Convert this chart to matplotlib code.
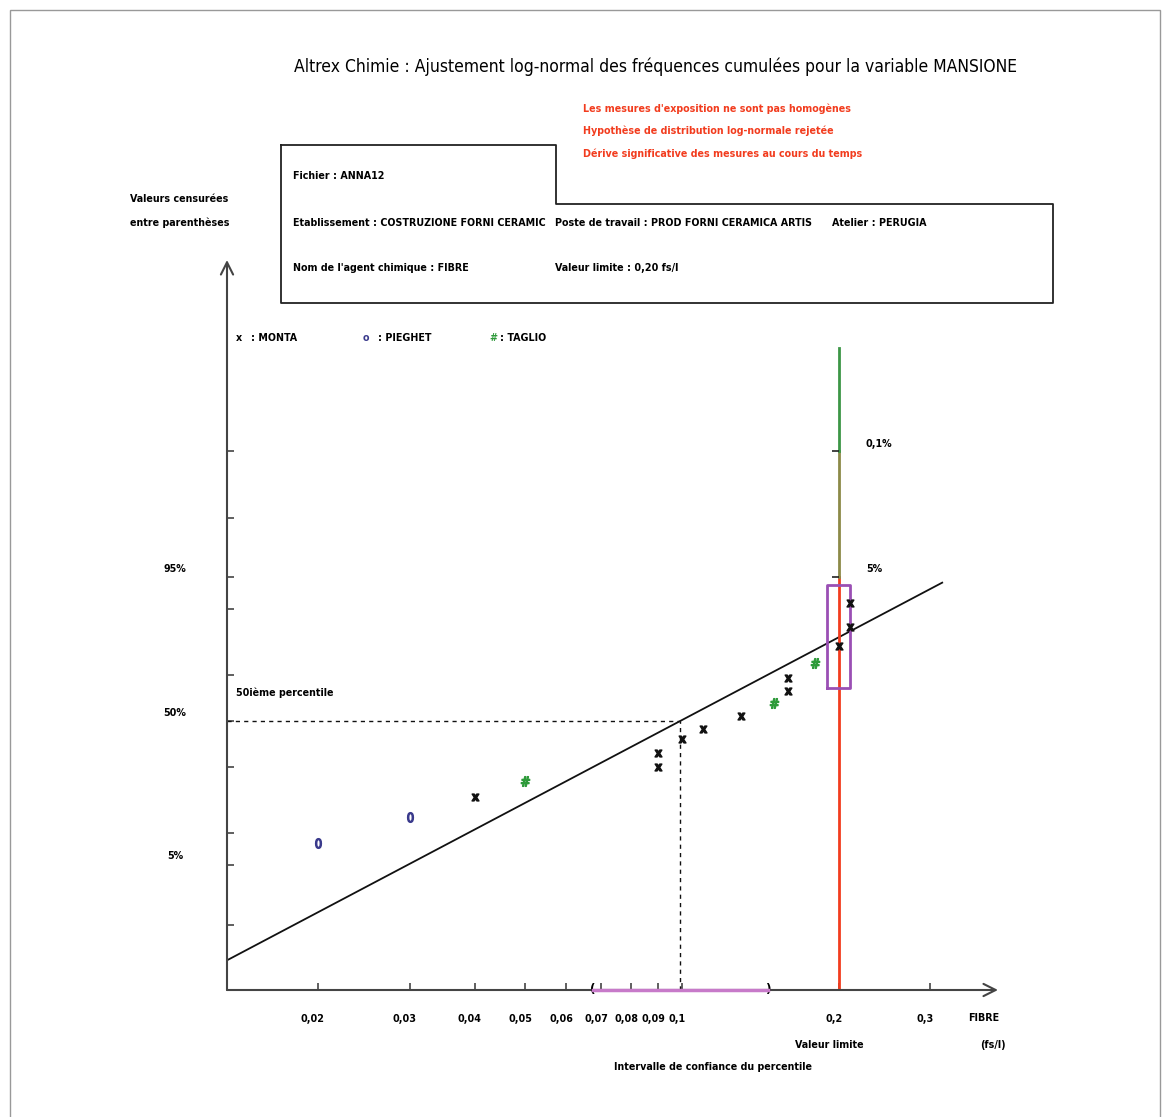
import matplotlib
matplotlib.use("Agg")
import matplotlib.pyplot as plt
from matplotlib import font_manager as fm
from matplotlib.lines import Line2D
from matplotlib.patches import Rectangle
from matplotlib.ticker import NullLocator
from matplotlib.transforms import ScaledTranslation
from statistics import NormalDist
import numpy as np

# police étroite si disponible (DejaVu Sans Condensed), sinon DejaVu Sans plus petite
plt.rcParams['font.family'] = ['DejaVu Sans']
cond_path = fm.findfont(fm.FontProperties(family='DejaVu Sans', stretch='condensed', weight='bold'))
if 'Condensed' in cond_path:
    plt.rcParams['font.stretch'] = 'condensed'
    k = 1.1
else:
    k = 1.0
FS = 7.0 * k        # textes courants
FS_TITLE = 11.4 * k

# --- données (concentrations en fs/l, fréquences cumulées en %) ---
monta_x = [0.04, 0.09, 0.09, 0.10, 0.11, 0.13, 0.16, 0.16, 0.20, 0.21, 0.21]
monta_p = [19.2, 29.8, 35.9, 41.7, 46.5, 52.3, 63.5, 68.7, 80.4, 85.9, 91.2]
pieghet_x = [0.02, 0.03]
pieghet_p = [8.2, 13.7]
taglio_x = [0.05, 0.15, 0.18]
taglio_p = [24.8, 58.0, 74.5]

fit_median = 0.0992
fit_gsd = 2.08
fit_range = [0.0134, 0.316]
ci_low, ci_high = 0.0675, 0.1464
valeur_limite = 0.2
box_x = [0.190, 0.2105]
box_p = [64.7, 94.0]
limit_p = [95, 99.9, 99.999]   # rouge / olive / vert

xticks = [0.02, 0.03, 0.04, 0.05, 0.06, 0.07, 0.08, 0.09, 0.1, 0.2, 0.3]
xlabels = ['0,02', '0,03', '0,04', '0,05', '0,06', '0,07', '0,08', '0,09', '0,1', '0,2', '0,3']
yticks_p = [1, 5, 10, 30, 50, 70, 90, 95, 99, 99.9]
ylab_p = [5, 50, 95]


def z(p):
    return np.array([NormalDist().inv_cdf(v / 100.0) for v in np.atleast_1d(p)])


W, H = 1168, 1117
fig = plt.figure(figsize=(W / 100, H / 100), dpi=100)


def put(px, py, s, **kw):
    kw.setdefault('fontsize', FS)
    kw.setdefault('fontweight', 'bold')
    kw.setdefault('va', 'center')
    fig.text(px / W, 1 - py / H, s, **kw)


# cadre extérieur
fig.add_artist(Rectangle((10 / W, -0.01), 1150 / W, 1 - 10 / H + 0.01, fill=False,
                         ec='#999999', lw=1, transform=fig.transFigure))

ax = fig.add_axes([227 / W, 1 - 990 / H, (998 - 227) / W, (990 - 260) / H])
ax.set_xscale('log')
ax.set_xlim(0.01339, 0.4044)
ax.set_ylim(-3.074, 5.27)
for s in ax.spines.values():
    s.set_visible(False)
ax.patch.set_alpha(0)

# axes avec flèches
arrow = dict(arrowstyle='->', color='#444444', lw=1.5, mutation_scale=22, shrinkA=0, shrinkB=0)
ax.annotate('', xy=(1, 0), xytext=(0, 0), xycoords='axes fraction', arrowprops=arrow)
ax.annotate('', xy=(0, 1), xytext=(0, 0), xycoords='axes fraction', arrowprops=arrow)

ax.set_xticks(xticks)
ax.set_xticklabels(xlabels)
ax.xaxis.set_minor_locator(NullLocator())
ax.set_yticks(z(yticks_p))
ax.set_yticklabels([])
ax.tick_params(direction='in', length=5, color='#444444', width=1.2)
ax.tick_params(axis='x', pad=17, labelsize=FS)
shift = ScaledTranslation(-5 / 100, 0, fig.dpi_scale_trans)
for t in ax.get_xticklabels():
    t.set_fontweight('bold')
    t.set_transform(t.get_transform() + shift)

# droite d'ajustement
fx = np.array(fit_range)
fz = (np.log10(fx) - np.log10(fit_median)) / np.log10(fit_gsd)
ax.plot(fx, fz, color='#111111', lw=1.3)

# 50ème percentile
x0 = ax.get_xlim()[0]
y0 = ax.get_ylim()[0]
ax.plot([x0, fit_median], [0, 0], color='#111111', lw=1, ls=(0, (3, 3)))
ax.plot([fit_median, fit_median], [y0, 0], color='#111111', lw=1, ls=(0, (3, 3)))

# valeur limite
zl = z(limit_p)
ax.plot([valeur_limite] * 2, [y0, zl[0]], color='#f23c1e', lw=2)
ax.plot([valeur_limite] * 2, [zl[0], zl[1]], color='#8c8a48', lw=2)
ax.plot([valeur_limite] * 2, [zl[1], zl[2]], color='#3c9646', lw=2)
ax.plot([valeur_limite] * 2, zl[:2], ls='none', marker=[(-1, 0), (0, 0)],
        ms=10, mew=1.2, color='#222222')

# intervalle de confiance du percentile de dépassement
bz = z(box_p)
ax.plot([box_x[0], box_x[1], box_x[1], box_x[0], box_x[0]],
        [bz[0], bz[0], bz[1], bz[1], bz[0]], color='#9a4fb4', lw=2)

# intervalle de confiance du 50ème percentile
xt = ax.get_xaxis_transform()
ax.plot([ci_low, ci_high], [0, 0], transform=xt, color='#c77ac9', lw=2.5,
        clip_on=False, zorder=5)
ax.text(ci_low, 0, '(', transform=xt, ha='center', va='center', fontsize=FS + 2, fontweight='bold')
ax.text(ci_high, 0, ')', transform=xt, ha='center', va='center', fontsize=FS + 2, fontweight='bold')

# points
ax.plot(pieghet_x, z(pieghet_p), ls='none', marker=r'$0$', ms=7, color='#3a3a8c')
ax.plot(monta_x, z(monta_p), ls='none', marker=r'$\mathbf{x}$', ms=5, color='#111111')
ax.plot(taglio_x, z(taglio_p), ls='none', marker=r'$\#$', ms=7, color='#2e9a3a')

# --- textes ---
put(655, 67, "Altrex Chimie : Ajustement log-normal des fréquences cumulées pour la variable MANSIONE",
    fontsize=FS_TITLE, fontweight='normal', ha='center')
red = '#f23c1e'
put(583, 109, "Les mesures d'exposition ne sont pas homogènes", color=red)
put(583, 131, "Hypothèse de distribution log-normale rejetée", color=red)
put(583, 154, "Dérive significative des mesures au cours du temps", color=red)

fig.add_artist(Line2D(np.array([281, 556, 556, 1053, 1053, 281, 281]) / W,
                      1 - np.array([145, 145, 204, 204, 303, 303, 145]) / H,
                      color='#222222', lw=1.3, transform=fig.transFigure))
put(293, 176, "Fichier : ANNA12")
put(293, 223, "Etablissement : COSTRUZIONE FORNI CERAMIC")
put(555, 223, "Poste de travail : PROD FORNI CERAMICA ARTIS")
put(832, 223, "Atelier : PERUGIA")
put(293, 268, "Nom de l'agent chimique : FIBRE")
put(555, 268, "Valeur limite : 0,20 fs/l")

put(130, 199, "Valeurs censurées")
put(130, 223, "entre parenthèses")

put(236, 338, "x")
put(251, 338, ": MONTA")
put(363, 338, "o", color='#3a3a8c')
put(378, 338, ": PIEGHET")
put(489, 338, "#", color='#2e9a3a')
put(500, 338, ": TAGLIO")

for p, lab, py in zip(ylab_p, ['5%', '50%', '95%'], [856, 713, 569]):
    put(175, py, lab, ha='center')
put(236, 693, "50ième percentile")
put(866, 444, "0,1%")
put(866, 569, "5%")

put(984, 1018, "FIBRE", ha='center')
put(993, 1045, "(fs/l)", ha='center')
put(829, 1045, "Valeur limite", ha='center')
put(713, 1067, "Intervalle de confiance du percentile", ha='center')

fig.savefig('out.png', dpi=100)
